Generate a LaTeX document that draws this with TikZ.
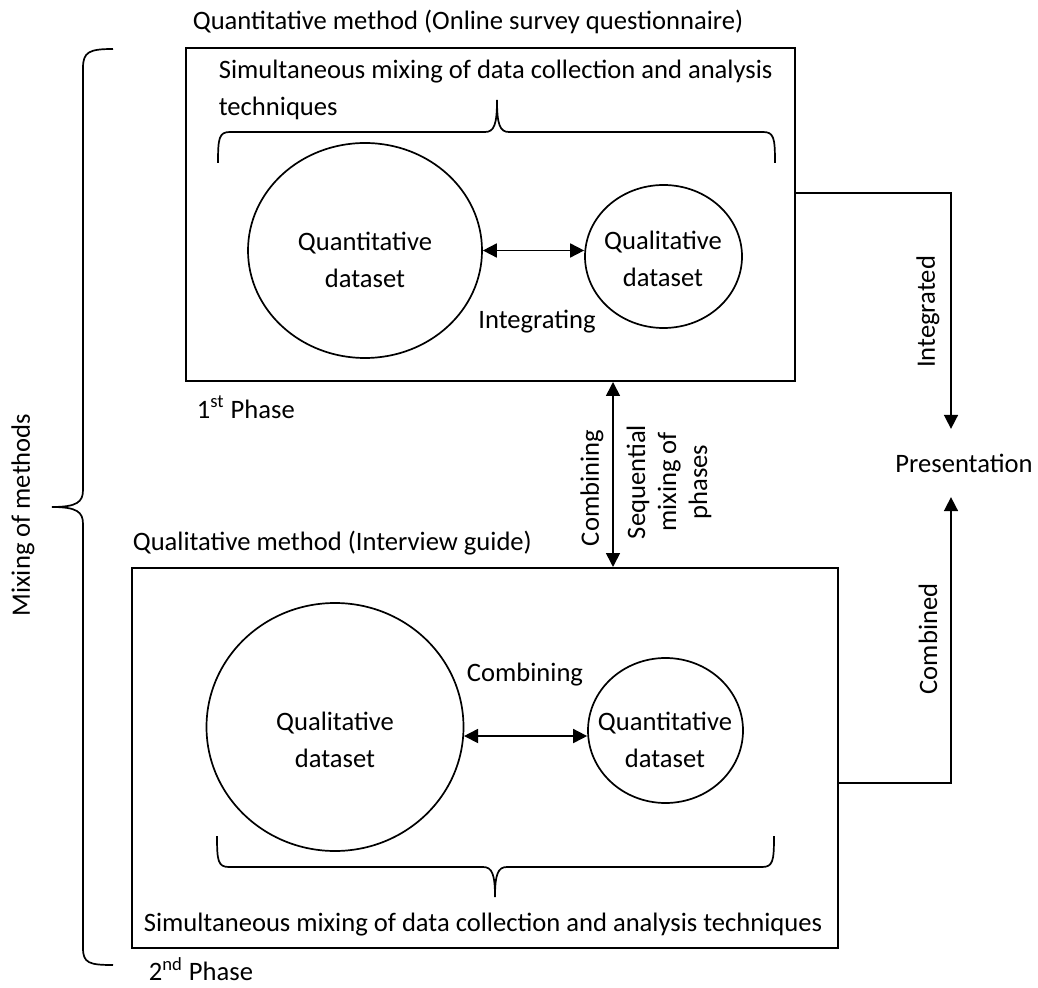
\documentclass[tikz,border=0pt]{standalone}
\usepackage{fontspec}
\setmainfont{Carlito}
\usetikzlibrary{arrows.meta,shapes.geometric,fit}
\begin{document}
\begin{tikzpicture}[x=0.5pt,y=-0.5pt,line width=0.85pt,
  every node/.style={font=\fontsize{13.3}{18.5}\selectfont,inner sep=0pt},
  box/.style={draw,line width=1pt,inner sep=0pt},
  dset/.style={ellipse,draw},
  arr/.style={-{Triangle[length=7pt,width=7pt]}},
  darr/.style={{Triangle[length=7pt,width=7pt]}-{Triangle[length=7pt,width=7pt]}}]
\useasboundingbox (0,0) rectangle (1038,988);
\node[box,fit={(186,48) (795,381)}] (box1) {};
\node[box,fit={(132,568) (838,948)}] (box2) {};
\node[anchor=west] (qntitle) at (192,22) {Quantitative method (Online survey questionnaire)};
\node[anchor=west] (qltitle) at (132,543) {Qualitative method (Interview guide)};
\node[anchor=west,align=left] (sim1) at (218,89.5) {Simultaneous mixing of data collection and analysis\\techniques};
\node[anchor=west] (sim2) at (143,925) {Simultaneous mixing of data collection and analysis techniques};
\node[anchor=west] (phase1) at (196,407) {1\textsuperscript{st} Phase};
\node[anchor=west] (phase2) at (148,969) {2\textsuperscript{nd} Phase};
\node[dset,minimum width=117pt,minimum height=107.5pt] (quanta) at (365,250.5) {};
\node[align=center] (quantaT) at (365,260) {Quantitative\\dataset};
\node[dset,minimum width=78.5pt,minimum height=71.5pt] (quala) at (663.5,256.5) {};
\node[align=center] (qualaT) at (663,259) {Qualitative\\dataset};
\node[dset,minimum width=128.5pt,minimum height=124pt] (qualb) at (335,727) {};
\node[align=center] (qualbT) at (335,740) {Qualitative\\dataset};
\node[dset,minimum width=77.5pt,minimum height=72.5pt] (quantb) at (665.5,730.5) {};
\node[align=center] (quantbT) at (665,740) {Quantitative\\dataset};
\draw[darr] (quanta.east) -- (quanta.east -| quala.west);
\draw[darr] (qualb.-4) -- (qualb.-4 -| quantb.west);
\node (integrating) at (537,322) {Integrating};
\node (combining) at (525,675) {Combining};
\coordinate (seqX) at (613,0);
\draw[darr] (box1.south -| seqX) -- (box2.north -| seqX);
\node[rotate=90] (combv) at (592,488) {Combining};
\node[rotate=90,align=center,font=\fontsize{13.3}{15.5}\selectfont] (seq) at (669,482) {Sequential\\mixing of\\phases};
\node[inner ysep=12pt] (pres) at (964,463) {Presentation};
\coordinate (intY) at (0,193);
\coordinate (cmbY) at (0,783);
\draw[arr] (box1.east |- intY) -| ([xshift=-6.5pt]pres.north);
\draw[arr] (box2.east |- cmbY) -| ([xshift=-6.5pt]pres.south);
\node[rotate=90] (integrated) at (928,312) {Integrated};
\node[rotate=90] (combined) at (928,639) {Combined};
\node[rotate=90] (mixing) at (23,515) {Mixing of methods};
\draw (218,163) .. controls (218,138) and (219,132) .. (230,132) -- (485,132)
  .. controls (494,132) and (497,125) .. (497,100) .. controls (497,125) and (500,132) .. (509,132)
  -- (763,132) .. controls (774,132) and (775,138) .. (775,163);
\draw (217,836) .. controls (217,861) and (218,867) .. (229,867) -- (483,867)
  .. controls (492,867) and (495,874) .. (495,897) .. controls (495,874) and (498,867) .. (507,867)
  -- (762,867) .. controls (773,867) and (774,861) .. (774,836);
\draw (113,49) .. controls (89,49) and (83,52) .. (83,68) -- (83,490)
  .. controls (83,502) and (77,507) .. (52,507) .. controls (77,507) and (83,512) .. (83,524)
  -- (83,948) .. controls (83,963) and (89,965) .. (113,965);
\end{tikzpicture}
\end{document}
